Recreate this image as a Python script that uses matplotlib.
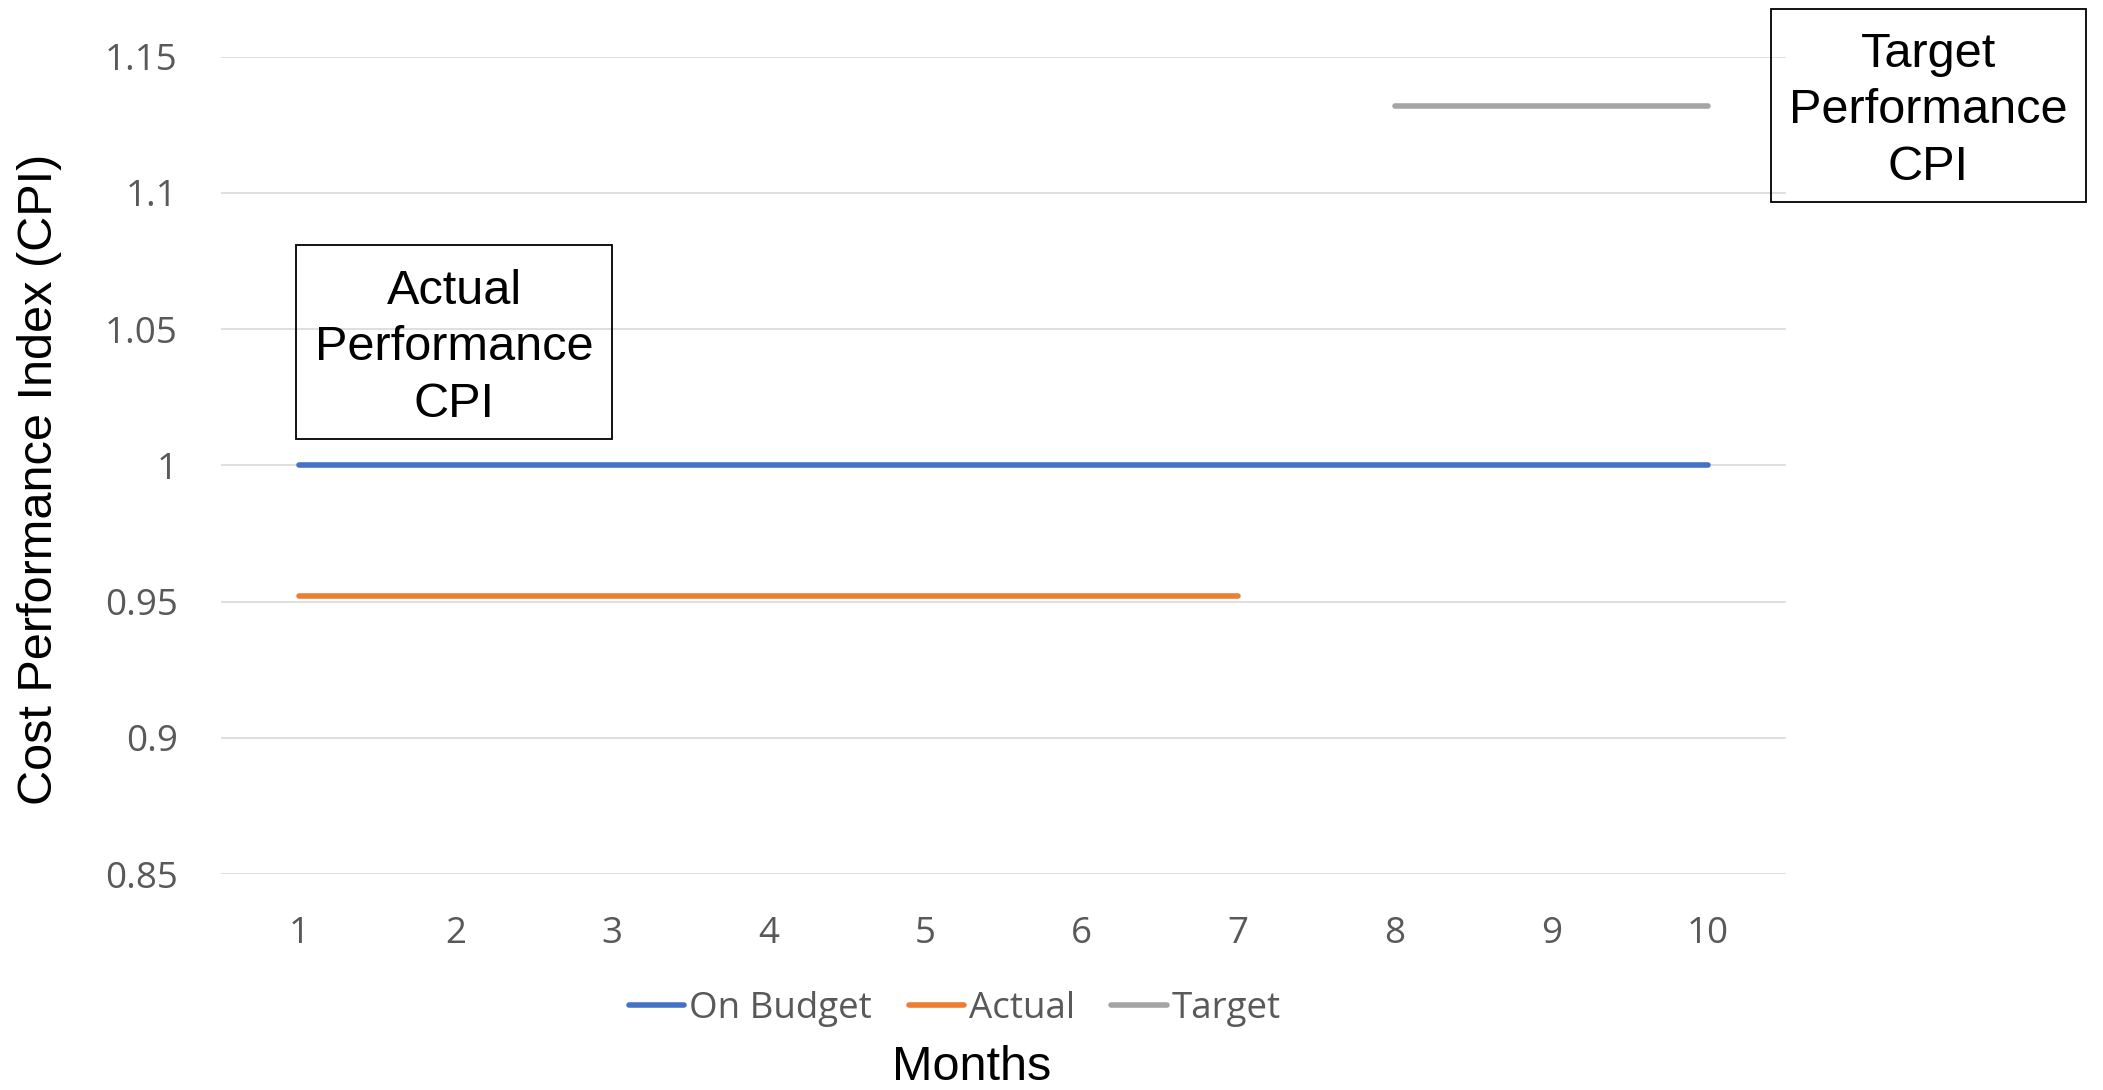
import matplotlib.pyplot as plt
import matplotlib.patches as patches

# data
months = [1, 2, 3, 4, 5, 6, 7, 8, 9, 10]
on_budget = [1.0, 1.0, 1.0, 1.0, 1.0, 1.0, 1.0, 1.0, 1.0, 1.0]
actual_months = [1, 2, 3, 4, 5, 6, 7]
actual = [0.952, 0.952, 0.952, 0.952, 0.952, 0.952, 0.952]
target_months = [8, 9, 10]
target = [1.132, 1.132, 1.132]
y_ticks = [0.85, 0.9, 0.95, 1.0, 1.05, 1.1, 1.15]
y_tick_labels = ['0.85', '0.9', '0.95', '1', '1.05', '1.1', '1.15']

tick_font = 'Open Sans'
title_font = 'Liberation Sans'
grey_text = '#595959'

fig = plt.figure(figsize=(21.03, 10.9), dpi=100)
ax = fig.add_axes([0.105, 0.198, 0.7443, 0.750])

ax.plot(months, on_budget, color='#4472C4', lw=4, solid_capstyle='round', label='On Budget')
ax.plot(actual_months, actual, color='#ED7D31', lw=4, solid_capstyle='round', label='Actual')
ax.plot(target_months, target, color='#A5A5A5', lw=4, solid_capstyle='round', label='Target')

ax.set_xlim(0.5, 10.5)
ax.set_ylim(0.85, 1.15)
ax.set_xticks(months)
ax.set_xticklabels([str(m) for m in months], family=tick_font, fontsize=26.5, color=grey_text)
ax.set_yticks(y_ticks)
ax.set_yticklabels(y_tick_labels, family=tick_font, fontsize=26.5, color=grey_text)
ax.tick_params(axis='both', length=0)
ax.tick_params(axis='x', pad=30)
ax.tick_params(axis='y', pad=31)

ax.grid(axis='y', color='#D9D9D9', lw=1.2)
ax.set_axisbelow(True)
for s in ax.spines.values():
    s.set_visible(False)

fig.text(0.019, 0.56, 'Cost Performance Index (CPI)', rotation=90, ha='center', va='center',
         family=title_font, fontsize=35, color='black')
fig.text(0.462, 0.009, 'Months', ha='center', va='baseline', family=title_font, fontsize=35, color='black')

leg = fig.legend(loc='center', bbox_to_anchor=(0.454, 0.074), ncol=3, frameon=False,
                 prop={'family': tick_font, 'size': 26.5}, handlelength=1.5,
                 handletextpad=0.13, columnspacing=1.0)
for t in leg.get_texts():
    t.set_color(grey_text)

# annotation boxes
def text_box(x0, y0, x1, y1, label):
    rect = patches.Rectangle((x0, y0), x1 - x0, y1 - y0, transform=fig.transFigure,
                             fill=False, edgecolor='black', lw=1.3)
    fig.add_artist(rect)
    fig.text((x0 + x1) / 2, (y0 + y1) / 2 - 0.005, label, ha='center', va='center',
             family=title_font, fontsize=35, linespacing=1.33, color='black')

text_box(0.1408, 0.597, 0.291, 0.775, 'Actual\nPerformance\nCPI')
text_box(0.842, 0.8147, 0.992, 0.9917, 'Target\nPerformance\nCPI')

fig.savefig('out.png', dpi=100)
